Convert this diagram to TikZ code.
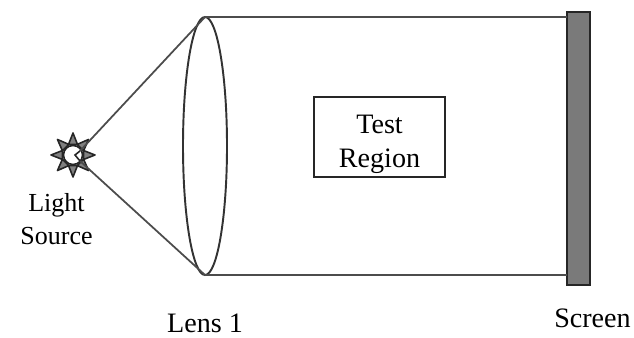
\documentclass[tikz,border=0pt]{standalone}
\usepackage{fontspec}
\setmainfont{Liberation Serif}
\usetikzlibrary{shapes.geometric}
\tikzset{
  lensbody/.style={ellipse, draw=black!80, line width=1.1pt, minimum width=0.88cm, minimum height=5.16cm, inner sep=0pt, outer sep=0pt},
  screenbody/.style={rectangle, draw=black!85, fill=black!52, line width=1.1pt, minimum width=0.46cm, minimum height=5.46cm, inner sep=0pt, outer sep=0pt},
  testbox/.style={rectangle, draw=black!85, line width=0.9pt, minimum width=2.62cm, minimum height=1.6cm, inner sep=0pt, align=center, font=\fontsize{16}{19.5}\selectfont},
  sourcebody/.style={circle, draw=black!85, fill=white, line width=0.9pt, minimum size=0.38cm, inner sep=0pt},
  sunray/.style={draw=black!85, fill=black!50, line width=0.9pt, line join=round},
  beam/.style={draw=black!70, line width=1.0pt},
  caption/.style={align=center, font=\fontsize{14.8}{18.5}\selectfont},
  bigcaption/.style={align=center, font=\fontsize{16}{19}\selectfont},
}
\begin{document}
\begin{tikzpicture}
\useasboundingbox (0,0) rectangle (12.68,6.76);
\node[lensbody] (lens) at (4.10,3.84) {};
\node[screenbody] (screen) at (11.57,3.79) {};
\node[testbox] (test) at (7.59,4.02) {Test\rule{0pt}{0.65cm}\\Region};
\node[sourcebody] (source) at (1.46,3.66) {};
\coordinate (upper) at (1.60,3.74);
\coordinate (lower) at (1.60,3.54);
\foreach \a in {0,45,...,315}
  \draw[sunray, shift={(source)}, rotate=\a] (0.21,0.09) -- (0.44,0) -- (0.21,-0.09) -- cycle;
\draw[beam] (upper) -- (lens.north) -- (screen.west |- lens.north);
\draw[beam] (lower) -- (lens.south) -- (screen.west |- lens.south);
\draw[black!85, line width=0.9pt] (upper) -- (1.50,3.66) -- (lower);
\node[caption] (sourcelabel) at (1.13,2.38) {Light\\Source};
\node[bigcaption] (lenslabel) at (4.10,0.30) {Lens 1};
\node[bigcaption] (screenlabel) at (11.85,0.40) {Screen};
\end{tikzpicture}
\end{document}
